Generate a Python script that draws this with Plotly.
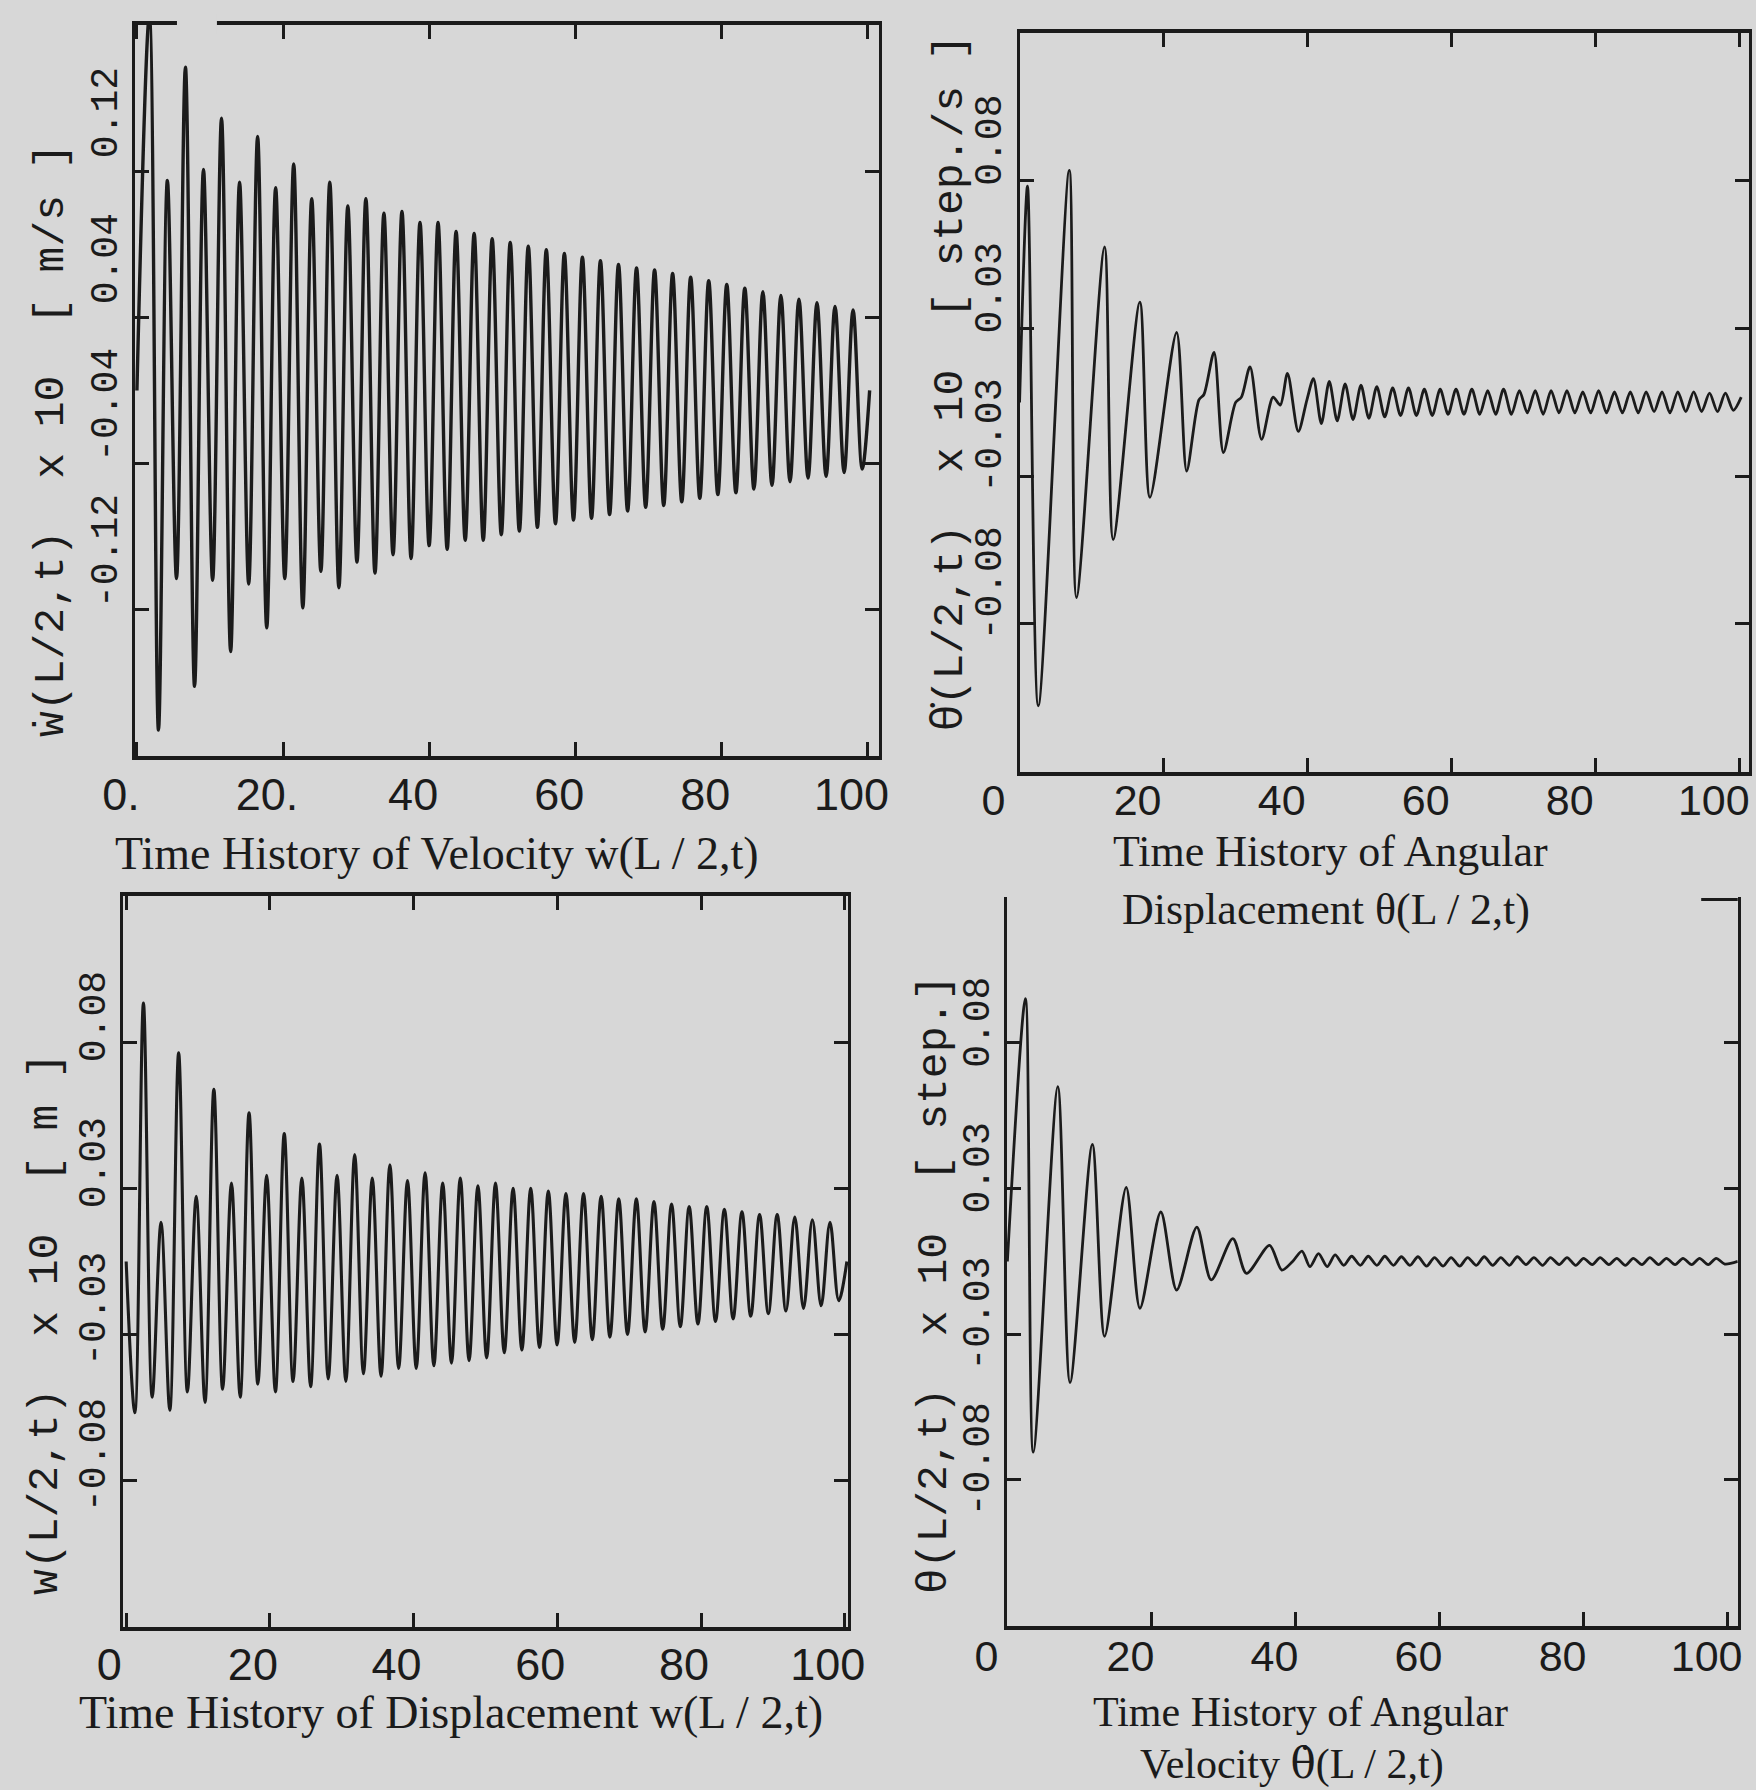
import plotly.graph_objects as go

# ---------------- data ----------------
# Top-left: velocity w_dot(L/2,t)  (extrema, time in s)
vel_t = [0.0, 1.7, 2.95, 4.17, 5.42, 6.64, 7.89, 9.11, 10.36, 11.58, 12.83, 14.05, 15.3, 16.52, 17.77,
         18.99, 20.24, 21.46, 22.71, 23.93, 25.18, 26.4, 27.65, 28.87, 30.12, 31.34, 32.59, 33.81, 35.06,
         36.28, 37.53, 38.75, 40.0, 41.22, 42.47, 43.69, 44.94, 46.16, 47.41, 48.63, 49.88, 51.1, 52.35,
         53.57, 54.82, 56.04, 57.29, 58.51, 59.76, 60.98, 62.23, 63.45, 64.7, 65.92, 67.17, 68.39, 69.64,
         70.86, 72.11, 73.33, 74.58, 75.8, 77.05, 78.27, 79.52, 80.74, 81.99, 83.21, 84.46, 85.68, 86.93,
         88.15, 89.4, 90.62, 91.87, 93.09, 94.34, 95.56, 96.81, 98.03, 99.28, 100.3]
vel_v = [0.0, 0.205, -0.186, 0.115, -0.103, 0.177, -0.162, 0.121, -0.104, 0.149, -0.143, 0.114, -0.106,
         0.139, -0.130, 0.111, -0.103, 0.124, -0.119, 0.105, -0.099, 0.114, -0.108, 0.101, -0.094,
         0.105, -0.100, 0.097, -0.090, 0.098, -0.092, 0.092, -0.085, 0.092, -0.087, 0.087, -0.082,
         0.086, -0.082, 0.083, -0.079, 0.081, -0.077, 0.079, -0.075, 0.077, -0.073, 0.075, -0.071,
         0.073, -0.070, 0.071, -0.068, 0.069, -0.066, 0.067, -0.064, 0.066, -0.063, 0.064, -0.061,
         0.062, -0.059, 0.060, -0.057, 0.058, -0.056, 0.056, -0.054, 0.054, -0.052, 0.052, -0.050,
         0.050, -0.048, 0.048, -0.047, 0.046, -0.045, 0.044, -0.043, 0.0]

# Top-right: angular displacement theta(L/2,t)
ang_t = [0.0, 1.1, 2.6, 6.9, 7.9, 11.8, 13.0, 16.7, 18.1, 21.8, 23.2, 24.9, 25.6, 27.0, 28.3, 30.0,
         30.8, 32.0, 33.6, 35.2, 36.2, 37.2, 38.7, 39.9,
         40.8, 41.9, 43.0, 44.1, 45.2, 46.3, 47.4, 48.5, 49.6, 50.7, 51.8, 52.9, 54.0, 55.1, 56.2, 57.3,
         58.4, 59.5, 60.6, 61.7, 62.8, 63.9, 65.0, 66.1, 67.2, 68.3, 69.4, 70.5, 71.6, 72.7, 73.8, 74.9,
         76.0, 77.1, 78.2, 79.3, 80.4, 81.5, 82.6, 83.7, 84.8, 85.9, 87.0, 88.1, 89.2, 90.3, 91.4, 92.5,
         93.6, 94.7, 95.8, 96.9, 98.0, 99.1, 100.2]
ang_v = [0.0, 0.082, -0.115, 0.088, -0.074, 0.059, -0.052, 0.038, -0.036, 0.0265, -0.026, 0.001, 0.003,
         0.019, -0.019, 0.0, 0.002, 0.0135, -0.014, 0.002, -0.001, 0.011, -0.011, 0.001,
         0.009, -0.008, 0.008, -0.007, 0.007, -0.0065, 0.0065, -0.006, 0.006, -0.0055, 0.0055, -0.005,
         0.0055, -0.005, 0.005, -0.005, 0.005, -0.0045, 0.005, -0.0045, 0.005, -0.0045, 0.0045, -0.0045,
         0.005, -0.0045, 0.0045, -0.004, 0.0045, -0.0045, 0.0045, -0.004, 0.0045, -0.004, 0.004, -0.004,
         0.0045, -0.004, 0.004, -0.004, 0.004, -0.004, 0.004, -0.0035, 0.004, -0.004, 0.004, -0.0035,
         0.004, -0.0035, 0.0035, -0.0035, 0.0035, -0.003, 0.002]

# Bottom-left: displacement w(L/2,t)
disp_t = [0.0, 1.2, 2.4, 3.62, 4.85, 6.07, 7.3, 8.52, 9.75, 10.97, 12.2, 13.42, 14.65, 15.87, 17.1, 18.32,
          19.55, 20.77, 22.0, 23.22, 24.45, 25.67, 26.9, 28.12, 29.35, 30.57, 31.8, 33.02, 34.25, 35.47,
          36.7, 37.92, 39.15, 40.37, 41.6, 42.82, 44.05, 45.27, 46.5, 47.72, 48.95, 50.17, 51.4, 52.62,
          53.85, 55.07, 56.3, 57.52, 58.75, 59.97, 61.2, 62.42, 63.65, 64.87, 66.1, 67.32, 68.55, 69.77,
          71.0, 72.22, 73.45, 74.67, 75.9, 77.12, 78.35, 79.57, 80.8, 82.02, 83.25, 84.47, 85.7, 86.92,
          88.15, 89.37, 90.6, 91.82, 93.05, 94.27, 95.5, 96.72, 97.95, 99.17, 100.3]
disp_v = [0.0, -0.058, 0.099, -0.052, 0.015, -0.057, 0.080, -0.050, 0.025, -0.054, 0.066, -0.049, 0.030,
          -0.052, 0.057, -0.047, 0.033, -0.050, 0.049, -0.046, 0.032, -0.048, 0.045, -0.045, 0.033,
          -0.046, 0.041, -0.043, 0.032, -0.044, 0.037, -0.041, 0.031, -0.041, 0.034, -0.040, 0.030,
          -0.039, 0.032, -0.038, 0.029, -0.037, 0.030, -0.035, 0.028, -0.034, 0.028, -0.033, 0.027,
          -0.032, 0.026, -0.031, 0.026, -0.030, 0.025, -0.029, 0.024, -0.028, 0.024, -0.027, 0.023,
          -0.026, 0.022, -0.025, 0.021, -0.024, 0.021, -0.023, 0.020, -0.022, 0.019, -0.021, 0.018,
          -0.020, 0.018, -0.019, 0.017, -0.018, 0.016, -0.017, 0.015, -0.015, 0.0]

# Bottom-right: angular velocity theta_dot(L/2,t)
avel_t = [0.0, 2.5, 3.6, 7.0, 8.7, 11.8, 13.5, 16.5, 18.4, 21.3, 23.5, 26.3, 28.3, 31.3, 33.2, 36.4, 38.1,
          39.6, 40.9, 42.0, 43.2, 44.4, 45.5, 46.7, 47.8, 49.0, 50.1, 51.3, 52.4, 53.6, 54.7, 55.9, 57.0,
          58.2, 59.3, 60.5, 61.6, 62.8, 63.9, 65.1, 66.2, 67.4, 68.5, 69.7, 70.8, 72.0, 73.1, 74.3, 75.4,
          76.6, 77.7, 78.9, 80.0, 81.2, 82.3, 83.5, 84.6, 85.8, 86.9, 88.1, 89.2, 90.4, 91.5, 92.7, 93.8,
          95.0, 96.1, 97.3, 98.4, 99.6, 101.4]
avel_v = [0.0, 0.101, -0.0733, 0.0672, -0.0466, 0.045, -0.0288, 0.0285, -0.018, 0.019, -0.011, 0.0132,
          -0.0071, 0.0088, -0.0046, 0.0062, -0.0033,
          0.0, 0.004, -0.002, 0.003, -0.002, 0.0025, -0.0015, 0.002, -0.0015, 0.002, -0.0015, 0.002,
          -0.0015, 0.0018, -0.0015, 0.0018, -0.0018, 0.0015, -0.0018, 0.0015, -0.0018, 0.0015, -0.0015,
          0.0018, -0.0015, 0.0015, -0.0015, 0.0018, -0.0012, 0.0015, -0.0015, 0.0015, -0.0012, 0.0015,
          -0.0015, 0.0012, -0.0012, 0.0015, -0.0012, 0.0012, -0.0015, 0.0012, -0.0012, 0.0015, -0.0012,
          0.0012, -0.0012, 0.0012, -0.0012, 0.0012, -0.0012, 0.0012, -0.001, 0.0]

x_tick_vals = [0, 20, 40, 60, 80, 100]
x_labels_tl = ["0.", "20.", "40", "60", "80", "100"]
x_labels = ["0", "20", "40", "60", "80", "100"]
y_ticks_vel = [-0.12, -0.04, 0.04, 0.12]
y_labels_vel = ["-0.12", "-0.04", "0.04", "0.12"]
y_ticks_small = [-0.084, -0.028, 0.028, 0.084]
y_labels_small = ["-0.08", "-0.03", "0.03", "0.08"]

# ---------------- styling ----------------
INK = "#1b1b1b"
BG = "#d7d7d7"
W, H = 1538.0, 1568.0   # layout measured on a 1538x1568 view


def px(v):
    return v / W


def py(v):
    return 1 - v / H


def xaxis(dom, rng, anchor, labels, mirror, shift, standoff, size=45):
    return dict(domain=[px(dom[0]), px(dom[1])], range=rng, anchor=anchor, automargin=False,
                tickmode="array", tickvals=x_tick_vals, ticktext=labels,
                ticks="inside", ticklen=14, tickwidth=3, tickcolor=INK,
                showline=True, linewidth=4, linecolor=INK, mirror=mirror,
                showgrid=False, zeroline=False, fixedrange=True,
                tickfont=dict(family="Liberation Sans", size=size, color=INK),
                ticklabelstandoff=standoff, ticklabelshift=shift, ticklabeloverflow="allow")


def yaxis(dom, rng, anchor, vals, labels, shift):
    return dict(domain=[py(dom[1]), py(dom[0])], range=rng, anchor=anchor, automargin=False,
                tickmode="array", tickvals=vals, ticktext=labels,
                ticks="inside", ticklen=14, tickwidth=3, tickcolor=INK,
                showline=True, linewidth=3, linecolor=INK, mirror="ticks",
                showgrid=False, zeroline=False, fixedrange=True, tickangle=-90,
                tickfont=dict(family="Liberation Mono", size=38, color=INK),
                ticklabelstandoff=0, ticklabelshift=shift, ticklabeloverflow="allow")


fig = go.Figure()
line_tl = dict(color=INK, width=3.4, shape="spline", smoothing=1.0)
line_bl = dict(color=INK, width=3.1, shape="spline", smoothing=1.0)
line_smooth = dict(color=INK, width=2.8, shape="spline", smoothing=0.8)
fig.add_trace(go.Scatter(x=vel_t, y=vel_v, mode="lines", line=line_tl, xaxis="x", yaxis="y",
                         showlegend=False, hoverinfo="skip"))
fig.add_trace(go.Scatter(x=ang_t, y=ang_v, mode="lines", line=line_smooth, xaxis="x2", yaxis="y2",
                         showlegend=False, hoverinfo="skip"))
fig.add_trace(go.Scatter(x=disp_t, y=disp_v, mode="lines", line=line_bl, xaxis="x3", yaxis="y3",
                         showlegend=False, hoverinfo="skip"))
fig.add_trace(go.Scatter(x=avel_t, y=avel_v, mode="lines", line=line_smooth, xaxis="x4", yaxis="y4",
                         showlegend=False, hoverinfo="skip"))

serif = dict(family="Liberation Serif", size=46, color=INK)
serif_r = dict(family="Liberation Serif", size=44, color=INK)
serif_b = dict(family="Liberation Serif", size=42, color=INK)
mono = dict(family="Liberation Mono", size=43, color=INK)
TH_S = '<span style="font-family:DejaVu Serif">θ\u0307</span>'
TH_M = '<span style="font-family:Noto Sans">θ\u0307</span>'


def ann(text, x, y, font, angle=0):
    return dict(text=text, x=px(x), y=py(y), xref="paper", yref="paper", showarrow=False,
                xanchor="center", yanchor="middle", font=font, textangle=angle)


annotations = [
    ann("Time History of Velocity ẇ(L / 2,t)", 383, 748, serif),
    ann("Time History of Angular", 1165, 746, serif_r),
    ann("Displacement θ(L / 2,t)", 1161, 797, serif_r),
    ann("Time History of Displacement w(L / 2,t)", 395, 1500, serif),
    ann("Time History of Angular", 1139, 1500, serif_b),
    ann("Velocity " + TH_S + "(L / 2,t)", 1132, 1545, serif_b),
    ann("ẇ(L/2,t)  x 10  [ m/s ]", 45, 385, mono, -90),
    ann(TH_M + "(L/2,t)  x 10  [ step./s ]", 828, 335, mono, -90),
    ann("w(L/2,t)  x 10  [ m ]", 40, 1160, mono, -90),
    ann("θ(L/2,t)  x 10  [ step.]", 818, 1125, mono, -90),
]

shapes = [
    # gap in the top frame line of the top-left panel
    dict(type="rect", xref="paper", yref="paper", x0=px(155), x1=px(190), y0=py(30), y1=py(12),
         fillcolor=BG, line=dict(width=0), layer="above"),
    # short top corner of the bottom-right panel
    dict(type="line", xref="paper", yref="paper", x0=px(1490), x1=px(1522), y0=py(788), y1=py(788),
         line=dict(color=INK, width=3)),
]

fig.update_layout(
    template="none",
    width=1756, height=1790, margin=dict(l=0, r=0, t=0, b=0, pad=0), autosize=False,
    paper_bgcolor=BG, plot_bgcolor=BG, showlegend=False,
    xaxis=xaxis((118, 770), [-0.3, 101.6], "y", x_labels_tl, "ticks", -16, -4),
    yaxis=yaxis((22, 662), [-0.2, 0.2], "x", y_ticks_vel, y_labels_vel, -53),
    xaxis2=xaxis((893, 1532), [0, 101.3], "y2", x_labels, "ticks", -26, -12, 43),
    yaxis2=yaxis((29, 676), [-0.14, 0.14], "x2", y_ticks_small, y_labels_small, -35),
    xaxis3=xaxis((108, 743), [-0.4, 100.5], "y3", x_labels, "ticks", -17, -5),
    yaxis3=yaxis((785, 1425), [-0.14, 0.14], "x3", y_ticks_small, y_labels_small, -20),
    xaxis4=xaxis((882, 1522), [-0.05, 101.4], "y4", x_labels, False, -21, -10, 43),
    yaxis4=yaxis((786, 1424), [-0.14, 0.14], "x4", y_ticks_small, y_labels_small, -15),
    annotations=annotations, shapes=shapes,
)

fig.write_html("out.html", config={"displayModeBar": False, "staticPlot": True},
               post_script="document.body.style.margin='0';document.body.style.overflow='hidden';")
